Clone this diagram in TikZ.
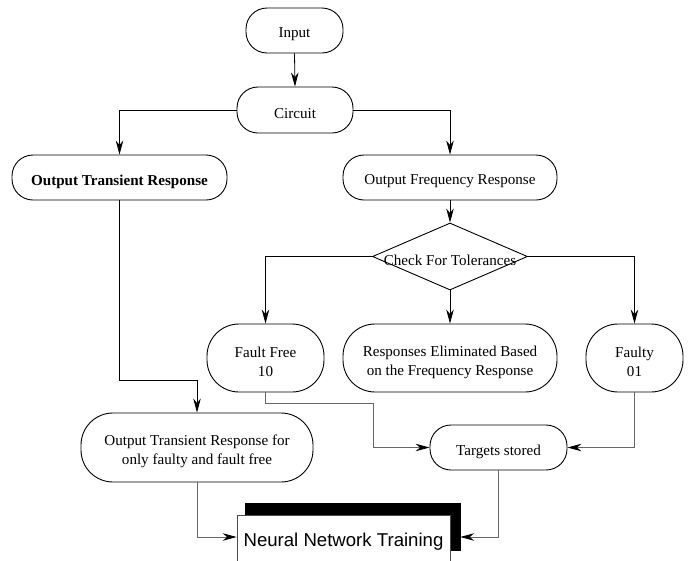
\documentclass[tikz,border=0pt]{standalone}
\usepackage{fontspec}
\setmainfont{Liberation Serif}
\newfontfamily\nntfont{Liberation Sans}
\usetikzlibrary{shapes.geometric,arrows.meta}
\tikzset{
  box/.style={draw, line width=0.9pt, rounded corners=#1, inner sep=0pt},
  lbl/.style={yshift=-4pt, inner sep=0pt, align=center, font=\fontsize{15.1}{18.8}\selectfont},
  arr/.style={line width=0.8pt, -{Stealth[length=14pt,width=7.5pt,inset=4.5pt,color=black]}},
  garr/.style={arr, draw=black!60},
}
\begin{document}
\begin{tikzpicture}[x=1pt,y=-1pt]
\useasboundingbox (0,0) rectangle (693,560);
\node[box=21, minimum width=97, minimum height=45, label={[lbl]center:Input}] (input) at (294.5,30.5) {};
\node[box=21, minimum width=116, minimum height=46, label={[lbl]center:Circuit}] (circuit) at (295,110) {};
\node[box=21, minimum width=215, minimum height=45, label={[lbl]center:\bfseries Output Transient Response}] (otr) at (119.5,177.5) {};
\node[box=21, minimum width=214, minimum height=45, label={[lbl]center:Output Frequency Response}] (ofr) at (450,177.5) {};
\node[draw, line width=0.9pt, shape=diamond, minimum width=155, minimum height=67, inner sep=0pt,
  label={[lbl]center:Check For Tolerances}] (check) at (450,256.5) {};
\node[box=32, minimum width=117, minimum height=68, label={[lbl]center:{Fault Free\\10}}] (ff) at (265.5,358) {};
\node[box=32, minimum width=214, minimum height=68, label={[lbl]center:{Responses Eliminated Based\\on the Frequency Response}}] (resp) at (450,358) {};
\node[box=32, minimum width=97, minimum height=68, label={[lbl]center:{Faulty\\01}}] (faulty) at (634.5,358) {};
\node[box=32, minimum width=232, minimum height=69, label={[lbl]center:{Output Transient Response for\\only faulty and fault free}}] (otrf) at (197,447.5) {};
\node[box=21, minimum width=137, minimum height=45, label={[lbl]center:Targets stored}] (targets) at (498.5,447.5) {};
\node[fill=black, draw=black, minimum width=215, minimum height=47, inner sep=0pt] (nnts) at (352.5,526.5) {};
\node[fill=white, draw=black!70, line width=0.8pt, minimum width=213, minimum height=47, inner sep=0pt,
  label={[lbl, font=\nntfont\fontsize{18.6}{20}\selectfont, yshift=1pt]center:Neural Network Training}] (nnt) at (343.5,538.5) {};

\draw[arr] (input.south) -- (circuit.north);
\draw[arr] (circuit.west) -| (otr.north);
\draw[arr] (circuit.east) -| (ofr.north);
\draw[arr] (ofr.south) -- (check.north);
\draw[arr] (check.west) -| (ff.north);
\draw[arr] (check.east) -| (faulty.north);
\draw[arr] (check.south) -- (resp.north);
\draw[arr] (otr.south) -- (119.5,380) -| (otrf.north);
\draw[garr] (ff.south) |- (373,403) |- (targets.west);
\draw[garr] (faulty.south) |- (targets.east);
\draw[garr] (targets.south) |- (nnts.east |- 0,537);
\draw[garr] (otrf.south) |- (nnt.west |- 0,537);
\end{tikzpicture}
\end{document}
